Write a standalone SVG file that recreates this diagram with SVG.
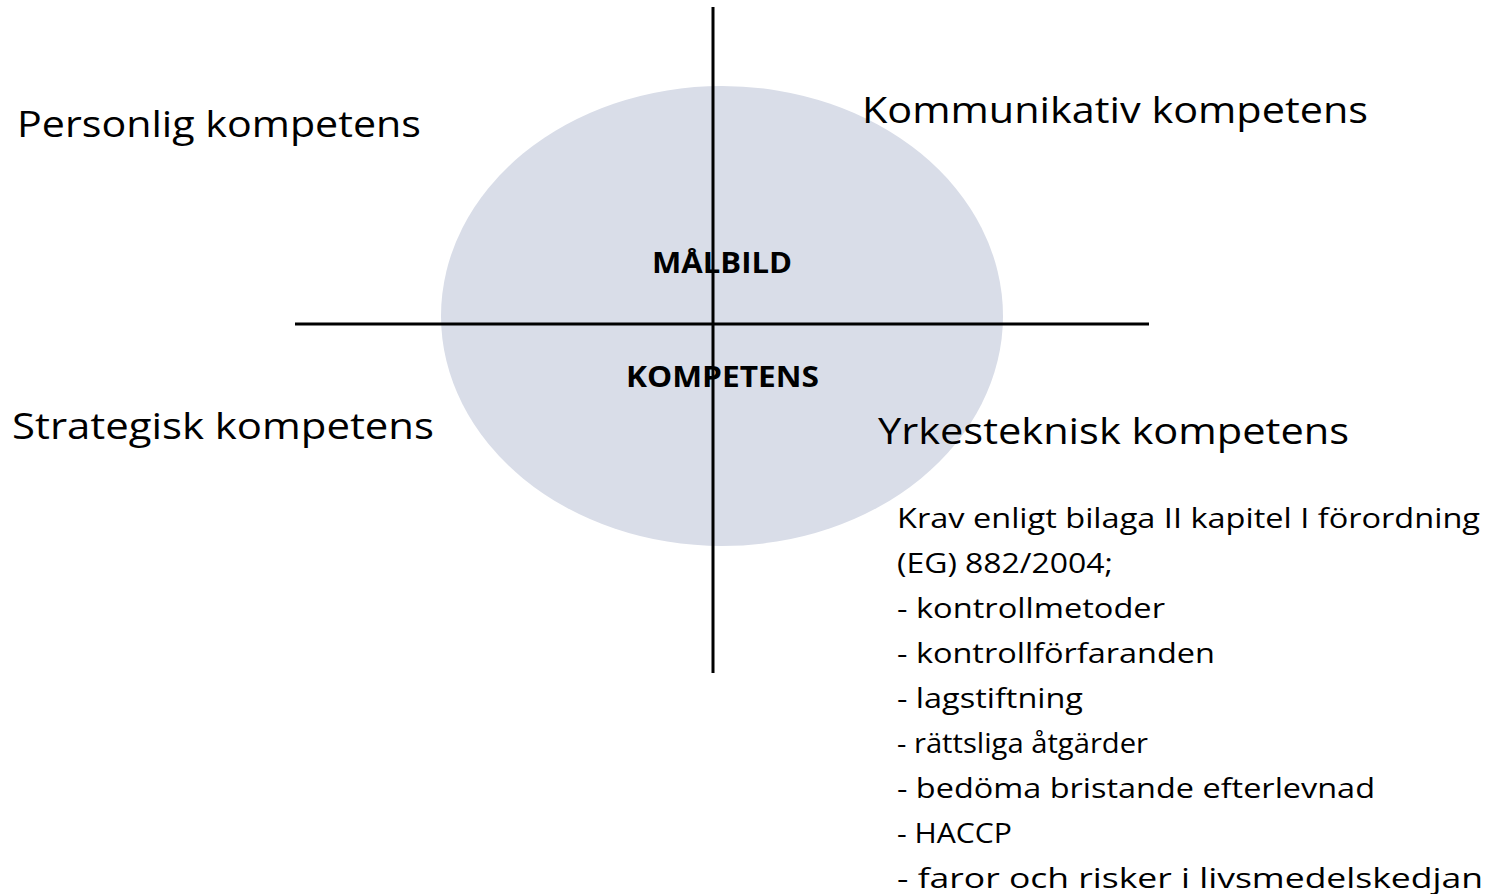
<svg xmlns="http://www.w3.org/2000/svg" width="1487" height="894" viewBox="0 0 1487 894">
<style>
.t{font-family:"Open Sans","Noto Sans","Liberation Sans",sans-serif;fill:#000}
.big{font-size:37px}
.b{font-size:29px;font-weight:bold}
.l{font-size:28px}
.ax{stroke:#000;stroke-width:3;fill:none}
</style>
<rect width="1487" height="894" fill="#fff"/>
<g id="ellipse"><ellipse cx="722" cy="316" rx="281" ry="230" fill="#d9dde8"/></g>
<g id="center">
<text class="t b" x="652" y="273" textLength="140" lengthAdjust="spacingAndGlyphs">MÅLBILD</text>
<text class="t b" x="626" y="387" textLength="193" lengthAdjust="spacingAndGlyphs">KOMPETENS</text>
</g>
<g id="connectors">
<line class="ax" x1="713" y1="7" x2="713" y2="673"/>
<line class="ax" x1="295" y1="324" x2="1149" y2="324"/>
</g>
<g id="personlig"><text class="t big" x="17" y="137" textLength="404" lengthAdjust="spacingAndGlyphs">Personlig kompetens</text></g>
<g id="kommunikativ"><text class="t big" x="862" y="123" textLength="506" lengthAdjust="spacingAndGlyphs">Kommunikativ kompetens</text></g>
<g id="strategisk"><text class="t big" x="12" y="439" textLength="422" lengthAdjust="spacingAndGlyphs">Strategisk kompetens</text></g>
<g id="yrkesteknisk"><text class="t big" x="878" y="444" textLength="471" lengthAdjust="spacingAndGlyphs">Yrkesteknisk kompetens</text></g>
<g id="list">
<text class="t l" x="897" y="528" textLength="583" lengthAdjust="spacingAndGlyphs">Krav enligt bilaga II kapitel I förordning</text>
<text class="t l" x="897" y="573" textLength="216" lengthAdjust="spacingAndGlyphs">(EG) 882/2004;</text>
<text class="t l" x="897" y="618" textLength="268" lengthAdjust="spacingAndGlyphs">- kontrollmetoder</text>
<text class="t l" x="897" y="663" textLength="318" lengthAdjust="spacingAndGlyphs">- kontrollförfaranden</text>
<text class="t l" x="897" y="708" textLength="186" lengthAdjust="spacingAndGlyphs">- lagstiftning</text>
<text class="t l" x="897" y="753" textLength="251" lengthAdjust="spacingAndGlyphs">- rättsliga åtgärder</text>
<text class="t l" x="897" y="798" textLength="478" lengthAdjust="spacingAndGlyphs">- bedöma bristande efterlevnad</text>
<text class="t l" x="897" y="843" textLength="115" lengthAdjust="spacingAndGlyphs">- HACCP</text>
<text class="t l" x="897" y="888" textLength="586" lengthAdjust="spacingAndGlyphs">- faror och risker i livsmedelskedjan</text>
</g>
</svg>
